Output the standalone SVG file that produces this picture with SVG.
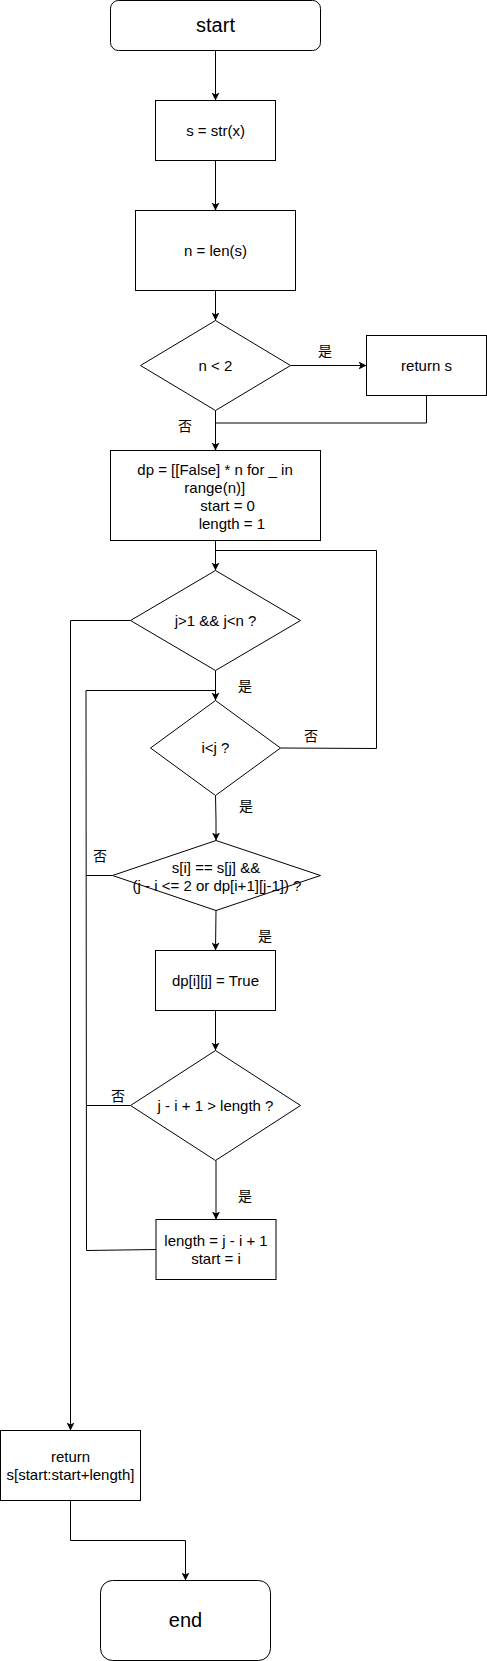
<svg xmlns="http://www.w3.org/2000/svg" width="487" height="1661" viewBox="0 0 487 1661">
<style>
.n{fill:#fff;stroke:#000;stroke-width:1}
.t{font-family:"Liberation Sans",Arial,sans-serif;font-size:15px;fill:#000;text-anchor:middle}
.tl{font-family:"Liberation Sans",Arial,sans-serif;font-size:15px;fill:#000}
.big{font-size:20px}
.lbl{font-family:"Liberation Sans","Noto Sans CJK SC",sans-serif;font-size:14px;fill:#000;text-anchor:middle}
.e{fill:none;stroke:#000;stroke-width:1}
</style>
<defs>
<marker id="ar" viewBox="0 0 10 10" refX="10" refY="5" markerWidth="8" markerHeight="8" markerUnits="userSpaceOnUse" orient="auto">
<path d="M0,0 L10,5 L0,10 L2.5,5 Z" fill="#000"/>
</marker>
</defs>
<g id="edges">
<path class="e" d="M215.5,50.5 V100.5" marker-end="url(#ar)"/>
<path class="e" d="M215.5,160.5 V210.5" marker-end="url(#ar)"/>
<path class="e" d="M215.5,290.5 V320.5" marker-end="url(#ar)"/>
<path class="e" d="M290.5,365.5 H366.5" marker-end="url(#ar)"/>
<path class="e" d="M215.5,410.5 V450.5" marker-end="url(#ar)"/>
<path class="e" d="M426.5,395.5 V423 H215.5"/>
<path class="e" d="M215.5,540.5 V570.5" marker-end="url(#ar)"/>
<path class="e" d="M280.5,748 L376.5,748.5 V550.5 H215.5"/>
<path class="e" d="M215.5,670.5 V700.5" marker-end="url(#ar)"/>
<path class="e" d="M130.5,620.5 H70.5 V1430.5" marker-end="url(#ar)"/>
<path class="e" d="M215.5,795.5 L216,820 V840.5" marker-end="url(#ar)"/>
<path class="e" d="M216,910.5 L215.5,950.5" marker-end="url(#ar)"/>
<path class="e" d="M215.5,1010.5 V1050.5" marker-end="url(#ar)"/>
<path class="e" d="M216,1160.5 V1219.5" marker-end="url(#ar)"/>
<path class="e" d="M156,1249.5 L86.5,1250.5 L86,690.5 H215.5"/>
<path class="e" d="M112.5,875.5 H86"/>
<path class="e" d="M130.5,1105.5 H86.5"/>
<path class="e" d="M70.5,1500.5 V1540.5 H185.5 V1580.5" marker-end="url(#ar)"/>
<text class="lbl" x="325" y="356">是</text>
<text class="lbl" x="185" y="431">否</text>
<text class="lbl" x="245" y="691">是</text>
<text class="lbl" x="311" y="741">否</text>
<text class="lbl" x="246" y="811">是</text>
<text class="lbl" x="100" y="861">否</text>
<text class="lbl" x="265" y="941">是</text>
<text class="lbl" x="118" y="1101">否</text>
<text class="lbl" x="245" y="1201">是</text>
</g>
<g id="start"><rect class="n" x="110.5" y="0.5" width="210" height="50" rx="8"/><text class="t big" x="215.5" y="32">start</text></g>
<g id="s_str"><rect class="n" x="155.5" y="100.5" width="120" height="60"/><text class="t" x="215.5" y="136">s = str(x)</text></g>
<g id="n_len"><rect class="n" x="135.5" y="210.5" width="160" height="80"/><text class="t" x="215.5" y="256">n = len(s)</text></g>
<g id="cond_n"><path class="n" d="M215.5,320.5 L290.5,365.5 L215.5,410.5 L140.5,365.5 Z"/><text class="t" x="215.5" y="371">n &lt; 2</text></g>
<g id="ret_s"><rect class="n" x="366.5" y="335.5" width="120" height="60"/><text class="t" x="426.5" y="371">return s</text></g>
<g id="init"><rect class="n" x="110.5" y="450.5" width="210" height="90"/>
<text class="tl" x="137.3" y="475">dp = [[False] * n for _ in</text>
<text class="tl" x="184.3" y="493">range(n)]</text>
<text class="tl" x="200.3" y="511">start = 0</text>
<text class="tl" x="198.7" y="529">length = 1</text></g>
<g id="cond_j"><path class="n" d="M215.5,570.5 L300.5,620.5 L215.5,670.5 L130.5,620.5 Z"/><text class="t" x="215.5" y="626">j&gt;1 &amp;&amp; j&lt;n ?</text></g>
<g id="cond_i"><path class="n" d="M215.5,700.5 L280.5,748 L215.5,795.5 L150.5,748 Z"/><text class="t" x="215.5" y="753">i&lt;j ?</text></g>
<g id="cond_s"><path class="n" d="M216,840.5 L320.5,875.5 L216,910.5 L112.5,875.5 Z" fill-opacity="0"/>
<text class="t" x="216" y="873">s[i] == s[j] &amp;&amp;</text>
<text class="t" x="217" y="891">(j - i &lt;= 2 or dp[i+1][j-1]) ?</text></g>
<g id="dp_true"><rect class="n" x="155.5" y="950.5" width="120" height="60"/><text class="t" x="215.5" y="986">dp[i][j] = True</text></g>
<g id="cond_len"><path class="n" d="M215.5,1050.5 L300.5,1105.5 L215.5,1160.5 L130.5,1105.5 Z"/><text class="t" x="215.5" y="1111">j - i + 1 &gt; length ?</text></g>
<g id="update"><rect class="n" x="156" y="1219.5" width="120" height="60"/>
<text class="t" x="216" y="1246">length = j - i + 1</text>
<text class="t" x="216" y="1264">start = i</text></g>
<g id="ret_sub"><rect class="n" x="0.5" y="1430.5" width="140" height="70"/>
<text class="t" x="70.5" y="1462">return</text>
<text class="t" x="70.5" y="1480">s[start:start+length]</text></g>
<g id="end"><rect class="n" x="100.5" y="1580.5" width="170" height="80" rx="12"/><text class="t big" x="185.5" y="1627">end</text></g>
</svg>
